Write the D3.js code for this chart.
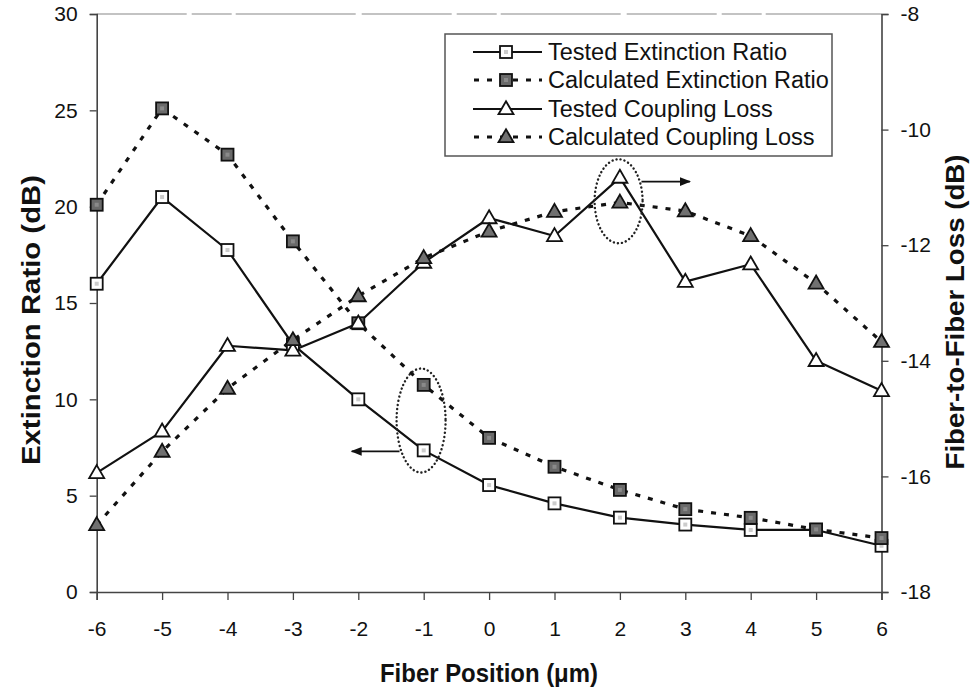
<!DOCTYPE html>
<html><head><meta charset="utf-8">
<script src="https://cdn.jsdelivr.net/npm/d3@7"></script>
<style>
html,body{margin:0;padding:0;background:#fff;}
svg{display:block;font-family:"Liberation Sans",Arial,sans-serif;}
</style></head>
<body>
<svg id="chart" width="978" height="688"></svg>
<script>
// ---- data ----
const positions = [-6,-5,-4,-3,-2,-1,0,1,2,3,4,5,6];
const testedER     = [16.0,20.5,17.75,12.85,10.0,7.35,5.55,4.6,3.86,3.5,3.22,3.22,2.4];
const calculatedER = [20.1,25.1,22.7,18.2,13.95,10.75,8.0,6.5,5.3,4.3,3.85,3.25,2.8];
const testedCL     = [-15.94,-15.22,-13.74,-13.82,-13.35,-12.3,-11.53,-11.84,-10.83,-12.63,-12.33,-14.0,-14.52];
const calculatedCL = [-16.84,-15.57,-14.48,-13.64,-12.88,-12.22,-11.76,-11.42,-11.26,-11.41,-11.84,-12.66,-13.67];
const xTicks = [-6,-5,-4,-3,-2,-1,0,1,2,3,4,5,6];
const yLeftTicks = [0,5,10,15,20,25,30];
const yRightTicks = [-18,-16,-14,-12,-10,-8];
const legendLabels = ["Tested Extinction Ratio","Calculated Extinction Ratio","Tested Coupling Loss","Calculated Coupling Loss"];

// ---- layout ----
const svg = d3.select("#chart");
const L = 96.7, R = 881.5, T = 14, B = 592;
const x = d3.scaleLinear().domain([-6,6]).range([L,R]);
const yL = d3.scaleLinear().domain([0,30]).range([B,T]);
const yR = d3.scaleLinear().domain([-18,-8]).range([B,T]);

const fontSize = 21;

// frame top (faint)
svg.append("line").attr("x1",L).attr("x2",R).attr("y1",T).attr("y2",T)
  .attr("stroke","#888").attr("stroke-width",1.2).attr("stroke-dasharray","90,5,40,4,120,6");

// axes
const gx = svg.append("g").attr("transform",`translate(0,${B})`)
  .call(d3.axisBottom(x).tickValues(xTicks).tickSize(8).tickPadding(21).tickFormat(d3.format("d")));
const gl = svg.append("g").attr("transform",`translate(${L},0)`)
  .call(d3.axisLeft(yL).tickValues(yLeftTicks).tickSize(7).tickPadding(12).tickFormat(d3.format("d")));
const gr = svg.append("g").attr("transform",`translate(${R},0)`)
  .call(d3.axisRight(yR).tickValues(yRightTicks).tickSize(7).tickPadding(12).tickFormat(d3.format("d")));
[gx,gl,gr].forEach(g=>{
  g.select(".domain").attr("stroke","#444").attr("stroke-width",1.6);
  g.selectAll(".tick line").attr("stroke","#444").attr("stroke-width",1.3);
  g.selectAll(".tick text").attr("font-size",fontSize).attr("fill","#111")
    .attr("font-family","'Liberation Sans',Arial,sans-serif");
  g.selectAll(".tick text").text(function(){return this.textContent.replace("\u2212","-");});
});
gx.selectAll(".tick text").attr("dy","0.71em");

// axis titles
svg.append("text").attr("x",489).attr("y",682).attr("text-anchor","middle")
  .attr("font-size",25).attr("font-weight","bold").attr("fill","#111")
  .attr("textLength",218).attr("lengthAdjust","spacingAndGlyphs")
  .text("Fiber Position (\u03bcm)");
svg.append("text").attr("transform","translate(40,320) rotate(-90)").attr("text-anchor","middle")
  .attr("font-size",25).attr("font-weight","bold").attr("fill","#111")
  .attr("textLength",290).attr("lengthAdjust","spacingAndGlyphs").text("Extinction Ratio (dB)");
svg.append("text").attr("transform","translate(964,312) rotate(-90)").attr("text-anchor","middle")
  .attr("font-size",25).attr("font-weight","bold").attr("fill","#111")
  .attr("textLength",315).attr("lengthAdjust","spacingAndGlyphs").text("Fiber-to-Fiber Loss (dB)");

// ---- series ----
function pts(vals, ys){ return positions.map((p,i)=>[x(p), ys(vals[i])]); }
const line = d3.line();
const solid = {stroke:"#111","stroke-width":2.2,"stroke-dasharray":null};
const dashed = {stroke:"#111","stroke-width":3.2,"stroke-dasharray":"5,8"};

function drawLine(vals, ys, st){
  const p = svg.append("path").attr("d",line(pts(vals,ys))).attr("fill","none")
    .attr("stroke",st.stroke).attr("stroke-width",st["stroke-width"]).attr("stroke-linejoin","round");
  if(st["stroke-dasharray"]) p.attr("stroke-dasharray",st["stroke-dasharray"]);
}
function square(g, cx, cy, dark){
  const s = 12;
  g.append("rect").attr("x",cx-s/2).attr("y",cy-s/2).attr("width",s).attr("height",s)
    .attr("fill",dark?"#6a6a6a":"#fff").attr("stroke","#111").attr("stroke-width",1.8);
  g.append("rect").attr("x",cx-2).attr("y",cy-2).attr("width",4).attr("height",4)
    .attr("fill",dark?"#8a8a8a":"#ccc");
}
function triangle(g, cx, cy, dark){
  const w = 15, h = 13;
  g.append("path").attr("d",`M${cx},${cy-h*0.6}L${cx+w/2},${cy+h*0.4}L${cx-w/2},${cy+h*0.4}Z`)
    .attr("fill",dark?"#707070":"#fff").attr("stroke","#111").attr("stroke-width",1.8).attr("stroke-linejoin","miter");
}
function drawMarkers(vals, ys, fn, dark){
  const g = svg.append("g");
  pts(vals,ys).forEach(([cx,cy])=>fn(g,cx,cy,dark));
}

drawLine(testedER, yL, solid);
drawLine(calculatedER, yL, dashed);
drawLine(testedCL, yR, solid);
drawLine(calculatedCL, yR, dashed);
drawMarkers(testedER, yL, square, false);
drawMarkers(calculatedER, yL, square, true);
drawMarkers(testedCL, yR, triangle, false);
drawMarkers(calculatedCL, yR, triangle, true);

// ---- annotations: dotted ellipses + arrows ----
const defs = svg.append("defs");
defs.append("marker").attr("id","ah").attr("viewBox","0 0 10 10").attr("refX",9).attr("refY",5)
  .attr("markerWidth",16).attr("markerHeight",11).attr("orient","auto-start-reverse").attr("markerUnits","userSpaceOnUse")
  .append("path").attr("d","M0,1L10,5L0,9Z").attr("fill","#111");

svg.append("ellipse").attr("cx",x(-1.04)).attr("cy",yL(8.9)).attr("rx",24.5).attr("ry",52)
  .attr("fill","none").attr("stroke","#222").attr("stroke-width",2.4).attr("stroke-dasharray","0.1,4").attr("stroke-linecap","round");
svg.append("line").attr("x1",x(-1.37)).attr("y1",yL(7.3)).attr("x2",x(-2.1)).attr("y2",yL(7.3))
  .attr("stroke","#111").attr("stroke-width",1.6).attr("marker-end","url(#ah)");

svg.append("ellipse").attr("cx",x(1.98)).attr("cy",yR(-11.24)).attr("rx",24).attr("ry",42)
  .attr("fill","none").attr("stroke","#222").attr("stroke-width",2.4).attr("stroke-dasharray","0.1,4").attr("stroke-linecap","round");
svg.append("line").attr("x1",x(2.33)).attr("y1",yR(-10.9)).attr("x2",x(3.07)).attr("y2",yR(-10.9))
  .attr("stroke","#111").attr("stroke-width",1.6).attr("marker-end","url(#ah)");

// ---- legend ----
const lg = svg.append("g");
lg.append("rect").attr("x",445).attr("y",34).attr("width",387).attr("height",122)
  .attr("fill","#fff").attr("stroke","#555").attr("stroke-width",1.5);
const rowsY = [52,80,109,137];
legendLabels.forEach((lab,i)=>{
  const yy = rowsY[i];
  const st = (i%2===0)?solid:dashed;
  const ln = lg.append("line").attr("x1",473).attr("x2",542).attr("y1",yy).attr("y2",yy)
    .attr("stroke","#111").attr("stroke-width",st["stroke-width"]);
  if(st["stroke-dasharray"]) ln.attr("stroke-dasharray","5,8").attr("stroke-dashoffset",-1);
  if(i<2) square(lg,506,yy,i===1); else triangle(lg,506,yy,i===3);
  lg.append("text").attr("x",548).attr("y",yy).attr("dy","0.36em").attr("font-size",23.5)
    .attr("fill","#111").text(lab);
});
</script>
</body></html>
